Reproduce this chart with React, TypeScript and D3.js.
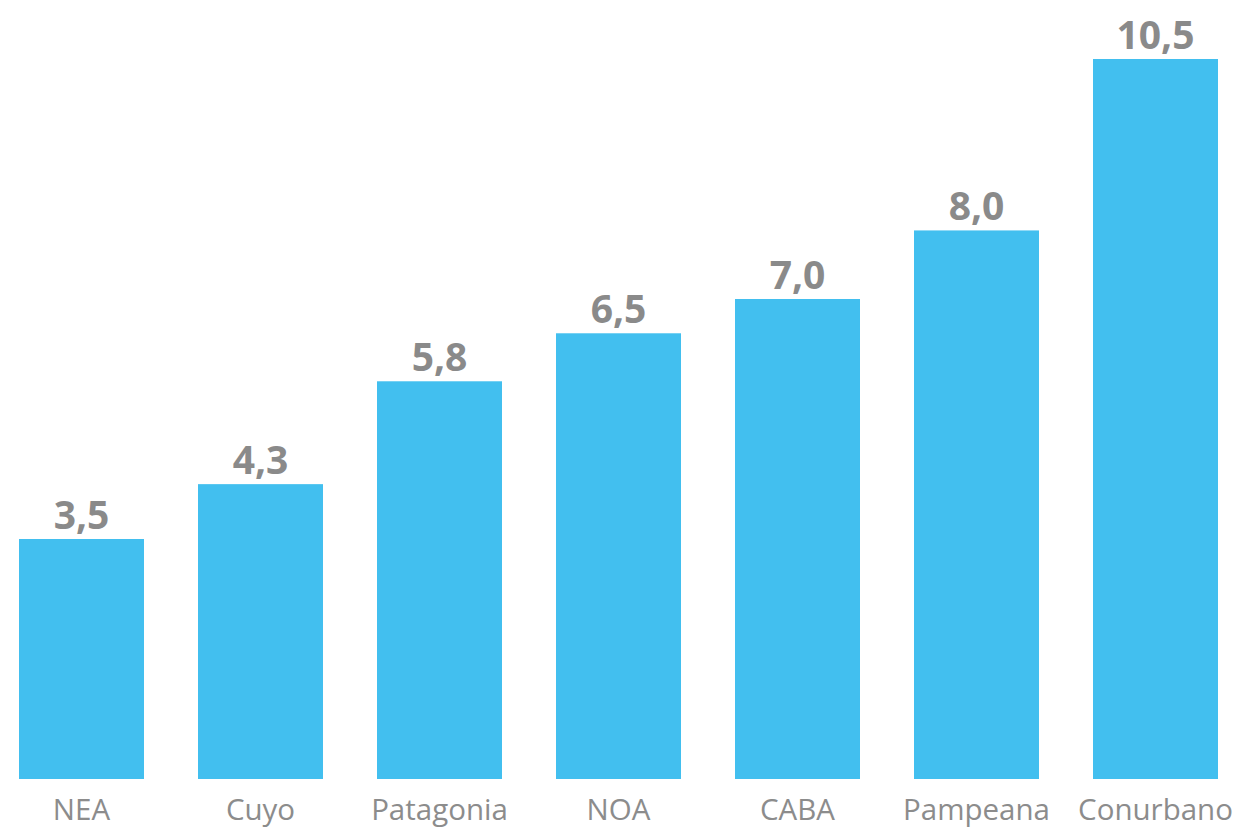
import React from "react";
import * as d3 from "d3";

const categories = ["NEA", "Cuyo", "Patagonia", "NOA", "CABA", "Pampeana", "Conurbano"];
const values = [3.5, 4.3, 5.8, 6.5, 7.0, 8.0, 10.5];

const W = 1243;
const H = 829;

export default function App() {
  const x = d3.scaleBand<string>().domain(categories).range([-8, 1245]).paddingInner(54 / 179).paddingOuter(27 / 179);
  const y = d3.scaleLinear().domain([0, 10.5]).range([779, 59]);
  const fmt = (v: number) => d3.format(".1f")(v).replace(".", ",");
  return (
    <svg width={W} height={H} style={{ position: "absolute", left: 0, top: 0, background: "#fff" }}>
      {categories.map((c, i) => (
        <g key={c}>
          <rect x={x(c)} y={y(values[i])} width={x.bandwidth()} height={y(0) - y(values[i])} fill="#42BFEF" />
          <text x={(x(c) as number) + x.bandwidth() / 2} y={y(values[i]) - 10} textAnchor="middle"
            fontFamily="Open Sans" fontWeight={700} fontSize={39} fill="#8a8a8a">{fmt(values[i])}</text>
          <text x={(x(c) as number) + x.bandwidth() / 2} y={820} textAnchor="middle"
            fontFamily="Open Sans" fontSize={29.5} fill="#8c8c8c">{c}</text>
        </g>
      ))}
    </svg>
  );
}
